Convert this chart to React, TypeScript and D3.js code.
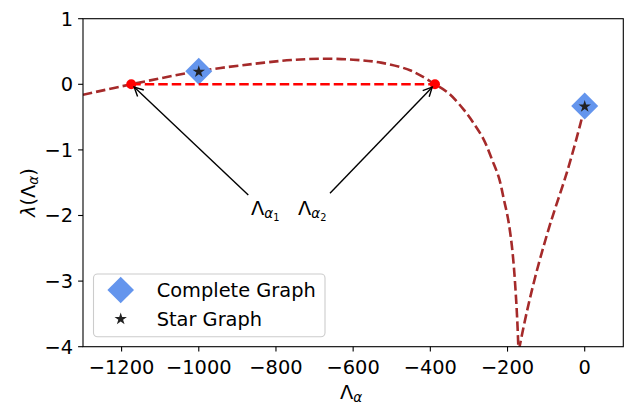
import React from "react";
import * as d3 from "d3";

const xTicks = [-1200, -1000, -800, -600, -400, -200, 0];
const yTicks = [1, 0, -1, -2, -3, -4];

const leftBranchX = [-1300, -1175, -1000, -830, -760, -684, -600, -528, -451, -388, -352, -313, -287, -261, -240, -222, -210, -199, -190, -184, -179, -175, -172, -171.5];
const leftBranchY = [-0.16, 0, 0.2, 0.33, 0.37, 0.39, 0.375, 0.33, 0.21, 0, -0.14, -0.39, -0.6, -0.85, -1.15, -1.43, -1.74, -2.04, -2.4, -2.75, -3.16, -3.57, -4.0, -4.1];

const rightBranchX = [-170.5, -150, -123, -90, -45, -11, 0];
const rightBranchY = [-4.05, -3.47, -2.82, -2.14, -1.32, -0.6, -0.33];

const completeX = [-1000, 0];
const completeY = [0.2, -0.33];
const starX = [-1000, 0];
const starY = [0.2, -0.33];

const rootX = [-1175, -388];
const rootY = [0, 0];

const legendLabels = ["Complete Graph", "Star Graph"];

const W = 625, H = 406;
const L = 83, R = 623.3, T = 18.7, B = 346.7;
const FONT = "DejaVu Sans, sans-serif";
const FS = 19.4;

export default function App() {
  const x = d3.scaleLinear().domain([-1300, 100]).range([L, R]);
  const y = d3.scaleLinear().domain([-4, 1]).range([B, T]);

  const line = d3
    .line<[number, number]>()
    .x((d) => x(d[0]))
    .y((d) => y(d[1]))
    .curve(d3.curveCatmullRom.alpha(0.5));

  const leftPts = leftBranchX.map((v, i) => [v, leftBranchY[i]] as [number, number]);
  const rightPts = rightBranchX.map((v, i) => [v, rightBranchY[i]] as [number, number]);

  const star = d3.symbol().type(d3.symbolStar).size(48)();
  const diamond = (cx: number, cy: number, r: number) =>
    `M${cx},${cy - r}L${cx + r},${cy}L${cx},${cy + r}L${cx - r},${cy}Z`;

  const arrow = (x0: number, y0: number, xt: number, yt: number, shrink: number) => {
    const dx = xt - x0, dy = yt - y0;
    const len = Math.hypot(dx, dy);
    const ux = dx / len, uy = dy / len;
    const tx = xt - ux * shrink, ty = yt - uy * shrink;
    const hl = 9, hw = 4.5;
    const bx = tx - ux * hl, by = ty - uy * hl;
    const px = -uy, py = ux;
    return (
      <g stroke="#000" fill="none" strokeWidth={1.4}>
        <line x1={x0} y1={y0} x2={tx} y2={ty} />
        <path d={`M${bx + px * hw},${by + py * hw}L${tx},${ty}L${bx - px * hw},${by - py * hw}`} />
      </g>
    );
  };

  const t1x = 251, t1y = 215;
  const t2x = 298, t2y = 215;
  const lw = 2.6;
  const dash = "9.5,4";

  return (
    <svg width={W} height={H} style={{ position: "absolute", left: 0, top: 0, background: "#fff" }} fontFamily={FONT}>
      <defs>
        <clipPath id="plot">
          <rect x={L} y={T} width={R - L} height={B - T} />
        </clipPath>
      </defs>
      <g clipPath="url(#plot)">
        <path d={line(leftPts) || ""} fill="none" stroke="#a52a2a" strokeWidth={lw} strokeDasharray={dash} />
        <path d={line(rightPts) || ""} fill="none" stroke="#a52a2a" strokeWidth={lw} strokeDasharray={dash} />
        {completeX.map((v, i) => (
          <path key={"d" + i} d={diamond(x(v), y(completeY[i]), 13.5)} fill="#6495ed" />
        ))}
        {starX.map((v, i) => (
          <path key={"s" + i} d={star} transform={`translate(${x(v)},${y(starY[i]) + 0.5})`} fill="#222" />
        ))}
        <line x1={x(rootX[0])} x2={x(rootX[1])} y1={y(rootY[0])} y2={y(rootY[1])} stroke="#ff0000" strokeWidth={lw} strokeDasharray={dash} />
        {rootX.map((v, i) => (
          <circle key={"r" + i} cx={x(v)} cy={y(rootY[i])} r={5} fill="#ff0000" />
        ))}
      </g>

      {/* annotations */}
      {arrow(248.3, 195, x(rootX[0]), y(rootY[0]), 4)}
      {arrow(330, 193.3, x(rootX[1]), y(rootY[1]), 4)}
      <text x={t1x} y={t1y} fontSize={FS} fill="#000">
        Λ
        <tspan fontStyle="italic" fontSize={13.6} dy={3}>α</tspan>
        <tspan fontSize={9.8} dy={2.6}>1</tspan>
      </text>
      <text x={t2x} y={t2y} fontSize={FS} fill="#000">
        Λ
        <tspan fontStyle="italic" fontSize={13.6} dy={3}>α</tspan>
        <tspan fontSize={9.8} dy={2.6}>2</tspan>
      </text>

      {/* axes frame */}
      <rect x={L} y={T} width={R - L} height={B - T} fill="none" stroke="#000" strokeWidth={1.1} />

      {xTicks.map((t) => (
        <g key={"xt" + t}>
          <line x1={x(t)} x2={x(t)} y1={B} y2={B + 4.9} stroke="#000" strokeWidth={1.1} />
          <text x={x(t)} y={374} textAnchor="middle" fontSize={FS} fill="#000">
            {t < 0 ? "\u2212" + Math.abs(t) : String(t)}
          </text>
        </g>
      ))}
      {yTicks.map((t) => (
        <g key={"yt" + t}>
          <line x1={L - 4.9} x2={L} y1={y(t)} y2={y(t)} stroke="#000" strokeWidth={1.1} />
          <text x={73} y={y(t)} dy="0.36em" textAnchor="end" fontSize={FS} fill="#000">
            {t < 0 ? "\u2212" + Math.abs(t) : String(t)}
          </text>
        </g>
      ))}

      {/* axis labels */}
      <text x={340} y={399} fontSize={FS} fill="#000">
        Λ<tspan fontStyle="italic" fontSize={13.6} dy={3}>α</tspan>
      </text>
      <text transform={`translate(35,${217}) rotate(-90)`} fontSize={FS} fill="#000">
        <tspan fontStyle="italic">λ</tspan>(Λ
        <tspan fontStyle="italic" fontSize={13.6} dy={3}>α</tspan>
        <tspan dy={-3}>)</tspan>
      </text>

      {/* legend */}
      <g>
        <rect x={93.5} y={274} width={231.5} height={62.7} rx={4} fill="#fff" fillOpacity={0.8} stroke="#cccccc" strokeWidth={1.1} />
        <path d={diamond(120.7, 290, 13.3)} fill="#6495ed" />
        <path d={star} transform="translate(120.7,319)" fill="#222" />
        <text x={156.7} y={297} fontSize={FS} fill="#000">{legendLabels[0]}</text>
        <text x={156.7} y={326} fontSize={FS} fill="#000">{legendLabels[1]}</text>
      </g>
    </svg>
  );
}
